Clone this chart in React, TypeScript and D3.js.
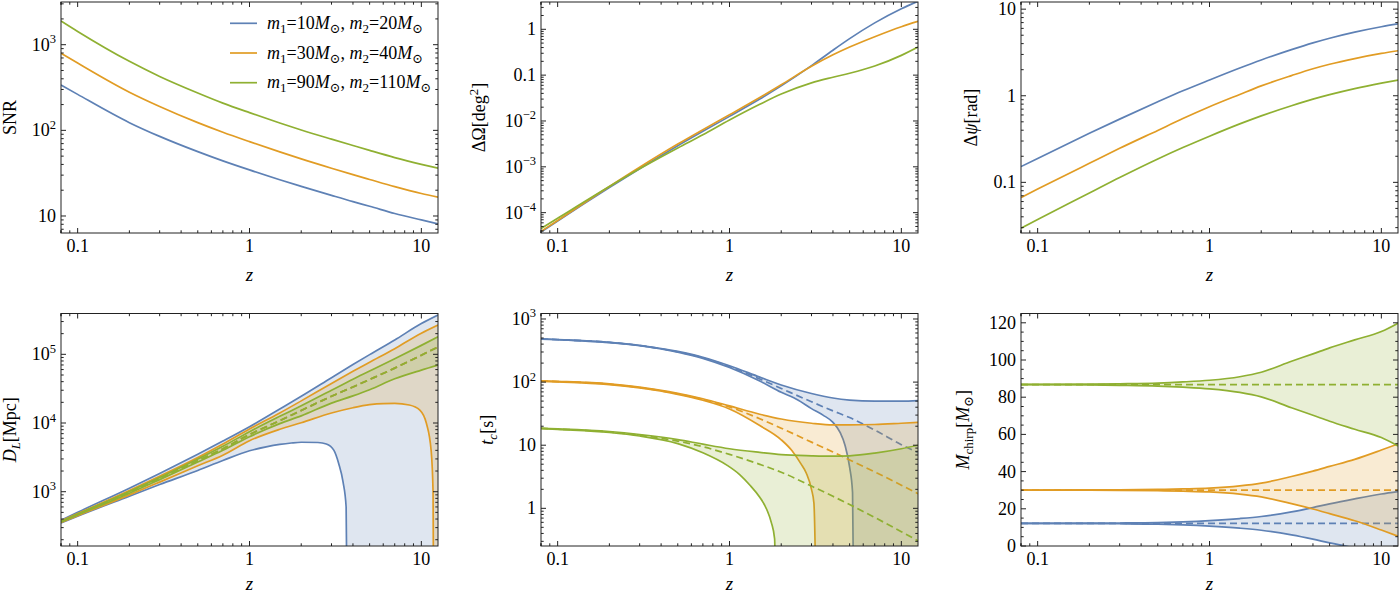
import React from "react";
import * as d3 from "d3";

// ---------- DATA ----------
const Z = [0.08, 0.1, 0.2, 0.3, 0.5, 0.7, 1, 1.5, 2, 3, 4, 5, 7, 10, 12.5];
const LEGEND = [
  { m1: "10", m2: "20" },
  { m1: "30", m2: "40" },
  { m1: "90", m2: "110" },
];

// SNR
const snrBlue = [339, 263, 123, 85, 56.4, 44, 34.5, 26.5, 22.2, 17.4, 14.7, 13.0, 10.7, 9.0, 8.1];
const snrOrange = [794, 610, 279, 190, 123, 95, 73.8, 56, 46.4, 36.1, 30.4, 26.7, 22, 18.3, 16.6];
const snrGreen = [1892, 1429, 640, 426, 273, 208, 161, 122, 101, 78.9, 66.5, 58.3, 48.1, 40.1, 36.1];

// Delta Omega [deg^2]
const dOmegaBlue = [3.8e-5, 6.6e-5, 3.52e-4, 9.1e-4, 2.88e-3, 5.94e-3, 0.0126, 0.0301, 0.0583, 0.161, 0.35, 0.625, 1.38, 2.81, 4.1];
const dOmegaOrange = [3.9e-5, 6.76e-5, 3.72e-4, 9.77e-4, 3.13e-3, 6.46e-3, 0.01365, 0.0324, 0.0617, 0.156, 0.277, 0.41, 0.69, 1.14, 1.49];
const dOmegaGreen = [4.5e-5, 7.55e-5, 3.72e-4, 9.06e-4, 2.58e-3, 5.0e-3, 0.0105, 0.0231, 0.0387, 0.068, 0.09, 0.11, 0.158, 0.27, 0.41];

// Delta psi [rad]
const dPsiBlue = [0.152, 0.189, 0.368, 0.537, 0.851, 1.14, 1.52, 2.09, 2.59, 3.41, 4.08, 4.62, 5.43, 6.27, 6.76];
const dPsiOrange = [0.0667, 0.0836, 0.166, 0.247, 0.398, 0.545, 0.746, 1.035, 1.3, 1.71, 2.05, 2.31, 2.69, 3.08, 3.31];
const dPsiGreen = [0.0296, 0.0373, 0.0752, 0.1135, 0.186, 0.252, 0.341, 0.473, 0.586, 0.767, 0.914, 1.03, 1.21, 1.4, 1.52];

// D_L [Mpc]
const dlCenter = [366, 465, 980, 1550, 2820, 4200, 6800, 10800, 15200, 24500, 33500, 43000, 63000, 97000, 128000];
const dlUpperBlue = [382, 500, 1125, 1845, 3520, 5460, 8830, 16000, 24500, 45700, 71000, 99000, 162000, 280000, 373000];
const dlUpperOrange = [375, 480, 1040, 1680, 3150, 4950, 8190, 14000, 21000, 37700, 56500, 76700, 121000, 203000, 267000];
const dlUpperGreen = [370, 472, 1010, 1610, 2990, 4580, 7470, 12500, 17800, 30000, 43500, 57000, 86000, 135000, 180000];
const dlLowerGreen = [363, 458, 950, 1500, 2700, 4000, 6310, 9800, 12700, 19500, 24800, 30500, 44000, 59000, 69800];
const dlLowerOrangeZ = [0.08, 0.1, 0.2, 0.3, 0.5, 0.7, 1, 1.5, 2, 3, 4, 5, 6, 7, 8.5, 9.8, 10.7, 11.4, 11.7, 11.85];
const dlLowerOrange = [358, 448, 900, 1380, 2380, 3400, 5520, 8100, 10100, 14000, 16700, 18500, 19200, 19300, 18300, 15400, 9900, 4000, 1000, 1];
const dlLowerBlueZ = [0.08, 0.1, 0.2, 0.3, 0.5, 0.7, 1, 1.25, 1.5, 1.75, 2, 2.5, 2.8, 3.1, 3.3, 3.5, 3.65, 3.74];
const dlLowerBlue = [350, 440, 860, 1270, 2040, 2850, 3950, 4500, 4880, 5120, 5250, 5200, 4950, 4000, 2600, 1400, 600, 1];

// t_c [s]
const tcCenterBlue = [482, 471, 425, 380, 302, 243, 176, 112, 79.3, 48.8, 35, 27.4, 17.4, 10.2, 7.6];
const tcUpperBlue = [484, 473, 428, 383, 306, 248, 182, 120, 90, 66, 56, 52, 50, 50, 51];
const tcLowerBlueZ = [0.08, 0.1, 0.2, 0.3, 0.5, 0.7, 1, 1.5, 2, 2.5, 3, 3.5, 4, 4.4, 4.7, 5.0, 5.2, 5.31];
const tcLowerBlue = [480, 469, 422, 377, 298, 238, 170, 104, 69, 52, 38, 30, 23, 16, 10, 4.5, 1.8, 0.01];
const tcCenterOrange = [104, 102, 92.7, 82, 65.2, 53.2, 40.3, 26.3, 18.6, 11.2, 7.8, 5.85, 3.78, 2.33, 1.71];
const tcUpperOrange = [105, 103, 94, 83.2, 66.5, 54.5, 42, 31, 26, 22.3, 21, 21, 21.3, 22.3, 23];
const tcLowerOrangeZ = [0.08, 0.1, 0.2, 0.3, 0.5, 0.7, 1, 1.5, 2, 2.3, 2.6, 2.8, 3.0, 3.1, 3.21];
const tcLowerOrange = [103, 101, 91.5, 80.8, 64, 51.5, 37.5, 20.5, 12.2, 8.3, 5.1, 3.6, 2.0, 1.2, 0.01];
const tcCenterGreen = [18.5, 18.0, 16.2, 14.4, 11.6, 9.46, 7.16, 4.98, 3.73, 2.25, 1.55, 1.15, 0.716, 0.427, 0.305];
const tcUpperGreen = [18.6, 18.2, 16.5, 14.8, 12.3, 10.4, 8.8, 7.7, 7.1, 6.8, 6.7, 6.8, 7.5, 8.8, 10];
const tcLowerGreenZ = [0.08, 0.1, 0.2, 0.3, 0.5, 0.7, 0.97, 1.15, 1.32, 1.5, 1.65, 1.75, 1.83, 1.875];
const tcLowerGreen = [18.4, 17.8, 15.9, 14.0, 10.6, 7.6, 4.8, 3.4, 2.3, 1.5, 0.95, 0.6, 0.33, 0.001];

// M_chirp [M_sun]
const mChirp = [12.17, 30.08, 86.8];
const mSigmaBlue = [0.02, 0.03, 0.1, 0.2, 0.45, 0.85, 1.5, 2.6, 3.7, 6.2, 8.5, 10.5, 13.2, 15.8, 17.1];
const mSigmaOrange = [0.02, 0.03, 0.08, 0.15, 0.35, 0.6, 1.0, 2.2, 3.7, 7.3, 10.2, 12.7, 16.5, 21.5, 24.8];
const mSigmaGreen = [0.05, 0.07, 0.2, 0.4, 0.8, 1.4, 2.3, 4.2, 6.6, 12.5, 16.5, 19.7, 24, 28.5, 33];

// ---------- STYLE / LAYOUT ----------
const COLORS = ["#5E81B5", "#E19C24", "#8FB032"];
const FONT = "Liberation Serif, DejaVu Serif, serif";
const X_DOMAIN: [number, number] = [0.08, 12.5];
const TICK_FS = 18;
const LABEL_FS = 18;
const SUP_FS = 12.5;
const LW = 1.7;
const DASH = "7,4";

type Frame = { l: number; r: number; t: number; b: number };
const F1: Frame = { l: 61, r: 438, t: 2, b: 233 };
const F2: Frame = { l: 541, r: 918, t: 2, b: 233 };
const F3: Frame = { l: 1021, r: 1398, t: 2, b: 233 };
const F4: Frame = { l: 61, r: 438, t: 313.5, b: 546 };
const F5: Frame = { l: 541, r: 918, t: 313.5, b: 546 };
const F6: Frame = { l: 1021, r: 1398, t: 313.5, b: 546 };

const lineGen = d3.line<[number, number]>().curve(d3.curveMonotoneX);

function logMajors(lo: number, hi: number) {
  const out: number[] = [];
  for (let e = Math.floor(Math.log10(lo)); e <= Math.ceil(Math.log10(hi)); e++) {
    const v = Math.pow(10, e);
    if (v >= lo * 0.999 && v <= hi * 1.001) out.push(v);
  }
  return out;
}
function logMinors(lo: number, hi: number) {
  const out: number[] = [];
  for (let e = Math.floor(Math.log10(lo)); e <= Math.ceil(Math.log10(hi)); e++) {
    for (let k = 2; k <= 9; k++) {
      const v = k * Math.pow(10, e);
      if (v >= lo && v <= hi) out.push(v);
    }
  }
  return out;
}

const pow = (e: string) => (
  <>
    10
    <tspan dy={-7.5} fontSize={SUP_FS}>
      {e}
    </tspan>
  </>
);

type PanelProps = {
  id: string;
  f: Frame;
  y: any;
  yMajors: number[];
  yMinors: number[];
  yLabel: (v: number) => React.ReactNode;
  ylab: React.ReactNode;
  ylabX: number;
  zY: number;
  children: (x: any) => React.ReactNode;
};

function Panel({ id, f, y, yMajors, yMinors, yLabel, ylab, ylabX, zY, children }: PanelProps) {
  const x = d3.scaleLog().domain(X_DOMAIN).range([f.l, f.r]);
  const xMajors = [0.1, 1, 10];
  const xMinors = logMinors(X_DOMAIN[0], X_DOMAIN[1]).concat([0.08]);
  const tk = "#222";
  return (
    <g>
      <clipPath id={id + "-clip"}>
        <rect x={f.l} y={f.t} width={f.r - f.l} height={f.b - f.t} />
      </clipPath>
      <g clipPath={`url(#${id}-clip)`}>{children(x)}</g>
      <rect x={f.l} y={f.t} width={f.r - f.l} height={f.b - f.t} fill="none" stroke={tk} strokeWidth={1} />
      {xMajors.map((v) => (
        <g key={"xM" + v}>
          <line x1={x(v)} x2={x(v)} y1={f.b} y2={f.b - 5} stroke={tk} />
          <line x1={x(v)} x2={x(v)} y1={f.t} y2={f.t + 5} stroke={tk} />
          <text x={x(v)} y={f.b + 19} textAnchor="middle" fontSize={TICK_FS}>
            {v === 0.1 ? "0.1" : String(v)}
          </text>
        </g>
      ))}
      {xMinors.map((v) => (
        <g key={"xm" + v}>
          <line x1={x(v)} x2={x(v)} y1={f.b} y2={f.b - 2.7} stroke={tk} />
          <line x1={x(v)} x2={x(v)} y1={f.t} y2={f.t + 2.7} stroke={tk} />
        </g>
      ))}
      {yMajors.map((v) => (
        <g key={"yM" + v}>
          <line x1={f.l} x2={f.l + 5} y1={y(v)} y2={y(v)} stroke={tk} />
          <line x1={f.r} x2={f.r - 5} y1={y(v)} y2={y(v)} stroke={tk} />
          <text x={f.l - 5} y={y(v) + 6} textAnchor="end" fontSize={TICK_FS}>
            {yLabel(v)}
          </text>
        </g>
      ))}
      {yMinors.map((v) => (
        <g key={"ym" + v}>
          <line x1={f.l} x2={f.l + 2.7} y1={y(v)} y2={y(v)} stroke={tk} />
          <line x1={f.r} x2={f.r - 2.7} y1={y(v)} y2={y(v)} stroke={tk} />
        </g>
      ))}
      <text
        transform={`translate(${ylabX},${(f.t + f.b) / 2}) rotate(-90)`}
        textAnchor="middle"
        fontSize={LABEL_FS}
      >
        {ylab}
      </text>
      <text x={(f.l + f.r) / 2} y={zY} textAnchor="middle" fontSize={LABEL_FS + 1} fontStyle="italic">
        z
      </text>
    </g>
  );
}

function Curve({ x, y, zs, vs, color }: any) {
  const pts = zs.map((z: number, i: number) => [x(z), y(vs[i])] as [number, number]);
  return <path d={lineGen(pts) || ""} fill="none" stroke={color} strokeWidth={LW} />;
}

function Band({ id, x, y, f, color, zU, vU, zL, vL, zC, vC }: any) {
  const up = zU.map((z: number, i: number) => [x(z), y(vU[i])] as [number, number]);
  const lo = zL.map((z: number, i: number) => [x(z), y(vL[i])] as [number, number]);
  const ce = zC.map((z: number, i: number) => [x(z), y(vC[i])] as [number, number]);
  const B = f.b + 3000;
  const T = f.t - 3000;
  const R = f.r + 200;
  const upPath = lineGen(up) || "";
  const loPath = lineGen(lo) || "";
  const upArea = `${upPath}L${up[up.length - 1][0]},${B}L${up[0][0]},${B}Z`;
  const loLast = lo[lo.length - 1];
  const loArea = `${loPath}L${loLast[0]},${B}L${R},${B}L${R},${T}L${lo[0][0]},${T}Z`;
  return (
    <g>
      <clipPath id={id}>
        <path d={upArea} />
      </clipPath>
      <g clipPath={`url(#${id})`}>
        <path d={loArea} fill={color} fillOpacity={0.2} stroke="none" />
      </g>
      <path d={upPath} fill="none" stroke={color} strokeWidth={LW} />
      <path d={loPath} fill="none" stroke={color} strokeWidth={LW} />
      <path d={lineGen(ce) || ""} fill="none" stroke={color} strokeWidth={LW} strokeDasharray={DASH} />
    </g>
  );
}

export default function App() {
  const y1 = d3.scaleLog().domain([6.33, 3152]).range([F1.b, F1.t]);
  const y2 = d3.scaleLog().domain([3.6e-5, 3.94]).range([F2.b, F2.t]);
  const y3 = d3.scaleLog().domain([0.026, 12.1]).range([F3.b, F3.t]);
  const y4 = d3.scaleLog().domain([162, 3.93e5]).range([F4.b, F4.t]);
  const y5 = d3.scaleLog().domain([0.253, 1222]).range([F5.b, F5.t]);
  const y6 = d3.scaleLinear().domain([0, 125]).range([F6.b, F6.t]);

  const snr = [snrBlue, snrOrange, snrGreen];
  const dOm = [dOmegaBlue, dOmegaOrange, dOmegaGreen];
  const dPsi = [dPsiBlue, dPsiOrange, dPsiGreen];

  const dlBands = [
    { zU: Z, vU: dlUpperBlue, zL: dlLowerBlueZ, vL: dlLowerBlue },
    { zU: Z, vU: dlUpperOrange, zL: dlLowerOrangeZ, vL: dlLowerOrange },
    { zU: Z, vU: dlUpperGreen, zL: Z, vL: dlLowerGreen },
  ];
  const tcBands = [
    { zU: Z, vU: tcUpperBlue, zL: tcLowerBlueZ, vL: tcLowerBlue, vC: tcCenterBlue },
    { zU: Z, vU: tcUpperOrange, zL: tcLowerOrangeZ, vL: tcLowerOrange, vC: tcCenterOrange },
    { zU: Z, vU: tcUpperGreen, zL: tcLowerGreenZ, vL: tcLowerGreen, vC: tcCenterGreen },
  ];
  const mSig = [mSigmaBlue, mSigmaOrange, mSigmaGreen];

  const plain = (v: number) => String(v);
  const TOP_Z = 281;
  const BOT_Z = 590;
  const SUB = 13;

  return (
    <svg
      width={1399}
      height={595}
      style={{ position: "absolute", left: 0, top: 0, background: "#fff", fontFamily: FONT }}
      fontFamily={FONT}
    >
      {/* Panel 1: SNR */}
      <Panel
        id="p1"
        f={F1}
        y={y1}
        yMajors={logMajors(6.33, 3152)}
        yMinors={logMinors(6.33, 3152)}
        yLabel={(v) => (v === 10 ? "10" : pow(String(Math.round(Math.log10(v)))))}
        ylab={<>SNR</>}
        ylabX={16}
        zY={TOP_Z}
      >
        {(x: any) =>
          snr.map((vs, i) => <Curve key={i} x={x} y={y1} zs={Z} vs={vs} color={COLORS[i]} />)
        }
      </Panel>
      {LEGEND.map((d, i) => {
        const yy = 23.3 + i * 29.7;
        return (
          <g key={"lg" + i}>
            <line x1={230} x2={257} y1={yy} y2={yy} stroke={COLORS[i]} strokeWidth={LW} />
            <text x={267} y={yy + 5.5} fontSize={18}>
              <tspan fontStyle="italic">m</tspan>
              <tspan fontSize={SUB} dy={4}>1</tspan>
              <tspan dy={-4}>={d.m1}</tspan>
              <tspan fontStyle="italic">M</tspan>
              <tspan fontSize={SUB} dy={4}>⊙</tspan>
              <tspan dy={-4}>, </tspan>
              <tspan fontStyle="italic">m</tspan>
              <tspan fontSize={SUB} dy={4}>2</tspan>
              <tspan dy={-4}>={d.m2}</tspan>
              <tspan fontStyle="italic">M</tspan>
              <tspan fontSize={SUB} dy={4}>⊙</tspan>
            </text>
          </g>
        );
      })}

      {/* Panel 2: Delta Omega */}
      <Panel
        id="p2"
        f={F2}
        y={y2}
        yMajors={logMajors(3.6e-5, 3.94)}
        yMinors={logMinors(3.6e-5, 3.94)}
        yLabel={(v) => (v === 1 ? "1" : v === 0.1 ? "0.1" : pow("−" + String(Math.round(-Math.log10(v)))))}
        ylab={
          <>
            ΔΩ[deg
            <tspan dy={-7.5} fontSize={SUB}>
              2
            </tspan>
            <tspan dy={7.5}>]</tspan>
          </>
        }
        ylabX={485}
        zY={TOP_Z}
      >
        {(x: any) =>
          dOm.map((vs, i) => <Curve key={i} x={x} y={y2} zs={Z} vs={vs} color={COLORS[i]} />)
        }
      </Panel>

      {/* Panel 3: Delta psi */}
      <Panel
        id="p3"
        f={F3}
        y={y3}
        yMajors={logMajors(0.026, 12.1)}
        yMinors={logMinors(0.026, 12.1)}
        yLabel={plain}
        ylab={
          <>
            Δ<tspan fontStyle="italic">ψ</tspan>[rad]
          </>
        }
        ylabX={977}
        zY={TOP_Z}
      >
        {(x: any) =>
          dPsi.map((vs, i) => <Curve key={i} x={x} y={y3} zs={Z} vs={vs} color={COLORS[i]} />)
        }
      </Panel>

      {/* Panel 4: D_L */}
      <Panel
        id="p4"
        f={F4}
        y={y4}
        yMajors={logMajors(162, 3.93e5)}
        yMinors={logMinors(162, 3.93e5)}
        yLabel={(v) => pow(String(Math.round(Math.log10(v))))}
        ylab={
          <>
            <tspan fontStyle="italic">D</tspan>
            <tspan fontStyle="italic" fontSize={SUB} dy={4}>
              L
            </tspan>
            <tspan dy={-4}>[Mpc]</tspan>
          </>
        }
        ylabX={16}
        zY={BOT_Z}
      >
        {(x: any) =>
          dlBands.map((b, i) => (
            <Band
              key={i}
              id={"dl" + i}
              x={x}
              y={y4}
              f={F4}
              color={COLORS[i]}
              zU={b.zU}
              vU={b.vU}
              zL={b.zL}
              vL={b.vL}
              zC={Z}
              vC={dlCenter}
            />
          ))
        }
      </Panel>

      {/* Panel 5: t_c */}
      <Panel
        id="p5"
        f={F5}
        y={y5}
        yMajors={logMajors(0.253, 1222)}
        yMinors={logMinors(0.253, 1222)}
        yLabel={(v) => (v === 1 ? "1" : v === 10 ? "10" : pow(String(Math.round(Math.log10(v)))))}
        ylab={
          <>
            <tspan fontStyle="italic">t</tspan>
            <tspan fontStyle="italic" fontSize={SUB} dy={4}>
              c
            </tspan>
            <tspan dy={-4}>[s]</tspan>
          </>
        }
        ylabX={493}
        zY={BOT_Z}
      >
        {(x: any) =>
          tcBands.map((b, i) => (
            <Band
              key={i}
              id={"tc" + i}
              x={x}
              y={y5}
              f={F5}
              color={COLORS[i]}
              zU={b.zU}
              vU={b.vU}
              zL={b.zL}
              vL={b.vL}
              zC={Z}
              vC={b.vC}
            />
          ))
        }
      </Panel>

      {/* Panel 6: M_chirp */}
      <Panel
        id="p6"
        f={F6}
        y={y6}
        yMajors={d3.range(0, 121, 20)}
        yMinors={d3.range(0, 126, 5).filter((v) => v % 20 !== 0)}
        yLabel={plain}
        ylab={
          <>
            <tspan fontStyle="italic">M</tspan>
            <tspan fontSize={SUB} dy={4}>
              chirp
            </tspan>
            <tspan dy={-4}>[</tspan>
            <tspan fontStyle="italic">M</tspan>
            <tspan fontSize={SUB} dy={4}>
              ⊙
            </tspan>
            <tspan dy={-4}>]</tspan>
          </>
        }
        ylabX={969}
        zY={BOT_Z}
      >
        {(x: any) =>
          mSig.map((s, i) => (
            <Band
              key={i}
              id={"mc" + i}
              x={x}
              y={y6}
              f={F6}
              color={COLORS[i]}
              zU={Z}
              vU={s.map((d) => mChirp[i] + d)}
              zL={Z}
              vL={s.map((d) => mChirp[i] - d)}
              zC={Z}
              vC={Z.map(() => mChirp[i])}
            />
          ))
        }
      </Panel>
    </svg>
  );
}
